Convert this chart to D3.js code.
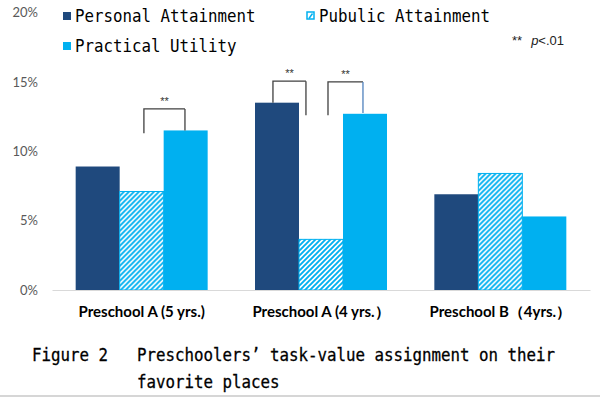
<!DOCTYPE html>
<html>
<head>
<meta charset="utf-8">
<script src="https://cdn.jsdelivr.net/npm/d3@7"></script>
<style>
  body { margin: 0; background: #fff; }
  svg { display: block; }
</style>
</head>
<body>
<div class="chart"></div>
<script>
// chart values (percent)
var groups = ["Preschool A (5 yrs.)", "Preschool A (4 yrs.\uFF09", "Preschool B\uFF084yrs.\uFF09"];
var seriesNames = ["Personal Attainment", "Pubulic Attainment", "Practical Utility"];
var personal = [8.9, 13.5, 6.9];
var pubulic = [7.1, 3.65, 8.4];
var practical = [11.5, 12.7, 5.3];
var yTicks = [0, 5, 10, 15, 20];

// significance brackets: group index, leg positions (fraction of group width), levels in %
var brackets = [
    {g: 0, a: 0.517, b: 0.828, top: 13.05, endA: 11.3, endB: 11.5, rightColor: "#404040"},
    {g: 1, a: 0.136, b: 0.386, top: 15.05, endA: 13.5, endB: 12.6, rightColor: "#404040"},
    {g: 1, a: 0.553, b: 0.818, top: 15.0, endA: 12.6, endB: 12.75, rightColor: "#4f81bd"}
];

var captionHead = "Figure 2";
var captionLines = ["Preschoolers\u2019 task-value assignment on their", "favorite places"];

const width = 600, height = 397;
const colors = ["#1f497d", "url(#hatch)", "#00b0f0"];
const mono = "'DejaVu Sans Mono', 'Liberation Mono', monospace";
const charW = 9.5;

var rows = groups.map((g, i) => ({group: g, values: [personal[i], pubulic[i], practical[i]]}));

var svg = d3.select(".chart")
    .append("svg")
    .attr("width", width)
    .attr("height", height);

var defs = svg.append("defs");
var pat = defs.append("pattern")
    .attr("id", "hatch")
    .attr("patternUnits", "userSpaceOnUse")
    .attr("width", 5)
    .attr("height", 5);
pat.append("rect").attr("width", 5).attr("height", 5).attr("fill", "#fff");
pat.append("path")
    .attr("d", "M-1,1 l2,-2 M0,5 l5,-5 M4,6 l2,-2")
    .attr("stroke", "#00b0f0")
    .attr("stroke-width", 1.9);

const x0 = d3.scaleBand()
    .domain(groups)
    .range([52, 590])
    .paddingInner(0.264)
    .paddingOuter(0.132);

const x1 = d3.scaleBand()
    .domain(d3.range(seriesNames.length))
    .range([0, x0.bandwidth()]);

const yScale = d3.scaleLinear()
    .domain([0, 20])
    .range([290, 12.5]);

// y axis labels only (no axis line)
const yAxis = d3.axisLeft(yScale)
    .tickValues(yTicks)
    .tickFormat(d => d + "%")
    .tickSize(0)
    .tickPadding(0);

var yAxisDisplay = svg.append("g")
    .attr("transform", "translate(38,0)")
    .call(yAxis);
yAxisDisplay.select(".domain").remove();
yAxisDisplay.selectAll("text")
    .attr("fill", "#595959")
    .attr("font-family", "Lato, 'Liberation Sans', sans-serif")
    .attr("font-size", 13);

// bars
var groupG = svg.selectAll("g.group")
    .data(rows)
    .enter()
    .append("g")
    .attr("class", "group")
    .attr("transform", d => "translate(" + x0(d.group) + ",0)");

groupG.selectAll("rect")
    .data(d => d.values.map((v, i) => ({v: v, i: i})))
    .enter()
    .append("rect")
    .attr("x", d => x1(d.i))
    .attr("width", x1.bandwidth())
    .attr("y", d => yScale(d.v))
    .attr("height", d => yScale(0) - yScale(d.v))
    .attr("fill", d => colors[d.i])
    .attr("stroke", d => d.i === 1 ? "#00b0f0" : "none")
    .attr("stroke-width", 1);

// x axis line and labels
const xAxis = d3.axisBottom(x0).tickSize(0).tickPadding(16);
var xAxisDisplay = svg.append("g")
    .attr("transform", "translate(0," + yScale(0) + ")")
    .call(xAxis);
xAxisDisplay.select(".domain").attr("stroke", "#d9d9d9");
xAxisDisplay.selectAll("text")
    .attr("fill", "#000")
    .attr("font-family", "Lato, 'Liberation Sans', sans-serif")
    .attr("font-weight", "bold")
    .attr("font-size", 15);

// significance brackets
brackets.forEach(b => {
    var gx = x0(groups[b.g]), w = x0.bandwidth();
    var xa = gx + b.a * w, xb = gx + b.b * w;
    svg.append("path")
        .attr("d", "M" + xa + "," + yScale(b.endA) + "V" + yScale(b.top) + "H" + xb)
        .attr("fill", "none")
        .attr("stroke", "#404040")
        .attr("stroke-width", 1.3);
    svg.append("path")
        .attr("d", "M" + xb + "," + yScale(b.top) + "V" + yScale(b.endB))
        .attr("fill", "none")
        .attr("stroke", b.rightColor)
        .attr("stroke-width", 1.3);
    svg.append("text")
        .text("**")
        .attr("x", (xa + xb) / 2)
        .attr("y", yScale(b.top) - 4)
        .attr("text-anchor", "middle")
        .attr("font-family", "'Liberation Sans', sans-serif")
        .attr("font-size", 11)
        .attr("fill", "#333");
});

// p note
var note = svg.append("text")
    .attr("x", 512)
    .attr("y", 45)
    .attr("font-family", "'Liberation Sans', sans-serif")
    .attr("font-size", 13)
    .attr("fill", "#222");
note.append("tspan").text("**");
note.append("tspan").attr("dx", 9).attr("font-style", "italic").text("p");
note.append("tspan").text("<.01");

// legend
var legendItems = [
    {name: seriesNames[0], i: 0, x: 63, y: 12},
    {name: seriesNames[1], i: 1, x: 307, y: 12},
    {name: seriesNames[2], i: 2, x: 63, y: 42}
];
var legend = svg.append("g");
legend.selectAll("rect")
    .data(legendItems)
    .enter()
    .append("rect")
    .attr("x", d => d.x)
    .attr("y", d => d.y)
    .attr("width", d => d.i === 1 ? 7 : 8)
    .attr("height", d => d.i === 1 ? 7 : 8)
    .attr("fill", d => d.i === 1 ? "#fff" : colors[d.i])
    .attr("stroke", d => d.i === 1 ? "#00b0f0" : "none")
    .attr("stroke-width", 1.5);
legend.append("path")
    .attr("d", "M309,18.5 L312.5,13.5")
    .attr("stroke", "#00b0f0")
    .attr("stroke-width", 1.5);
legend.selectAll("text")
    .data(legendItems)
    .enter()
    .append("text")
    .text(d => d.name)
    .attr("x", d => d.x + 12)
    .attr("y", d => d.y + 10)
    .attr("font-family", mono)
    .attr("font-size", 18)
    .attr("textLength", d => d.name.length * charW)
    .attr("lengthAdjust", "spacingAndGlyphs")
    .attr("fill", "#000");

// caption
var cap = svg.append("g")
    .attr("font-family", mono)
    .attr("font-size", 18)
    .attr("fill", "#000")
    .attr("stroke", "#000")
    .attr("stroke-width", 0.3);
cap.append("text")
    .text(captionHead)
    .attr("x", 32)
    .attr("y", 361)
    .attr("textLength", captionHead.length * charW)
    .attr("lengthAdjust", "spacingAndGlyphs");
cap.selectAll("text.line")
    .data(captionLines)
    .enter()
    .append("text")
    .attr("class", "line")
    .text(d => d)
    .attr("x", 137)
    .attr("y", (d, i) => 361 + i * 27)
    .attr("textLength", d => d.length * charW)
    .attr("lengthAdjust", "spacingAndGlyphs");

svg.append("line")
    .attr("x1", 0).attr("x2", width)
    .attr("y1", 396).attr("y2", 396)
    .attr("stroke", "#c8c8c8")
    .attr("stroke-width", 1.5);
</script>
</body>
</html>
